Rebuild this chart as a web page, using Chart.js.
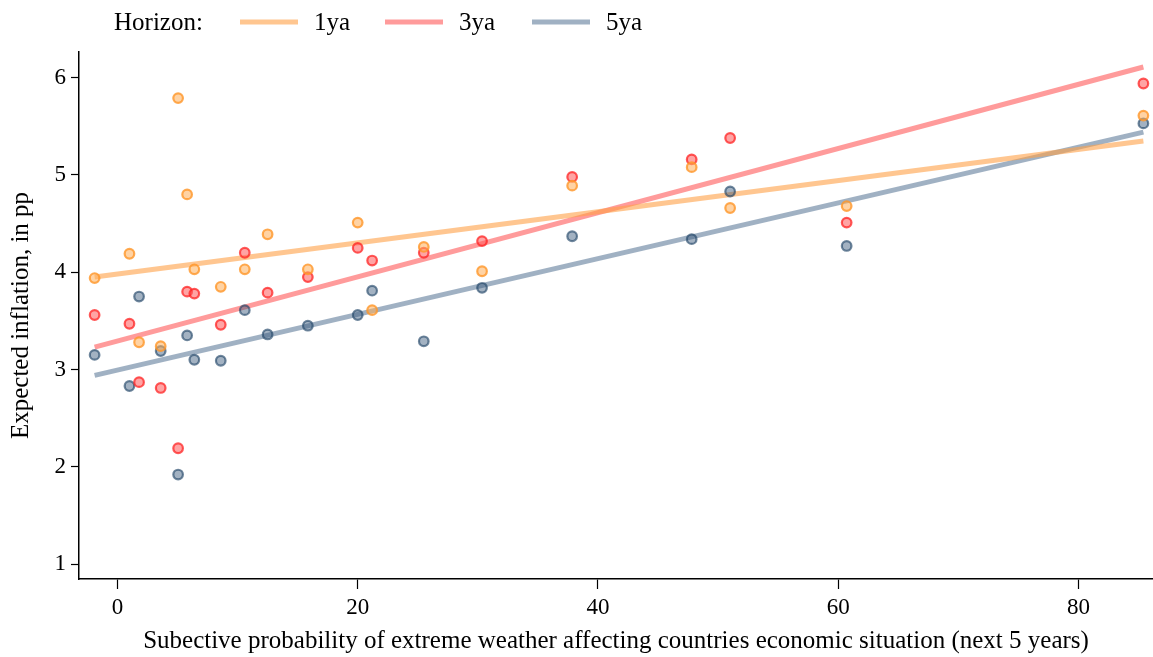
<!DOCTYPE html>
<html>
<head>
<meta charset="utf-8">
<script src="https://cdn.jsdelivr.net/npm/chart.js@4/dist/chart.umd.min.js"></script>
<style>
  html, body { margin: 0; padding: 0; background: #fff; }
  #wrap { width: 1153px; height: 657px; position: relative; }
</style>
</head>
<body>
<div id="wrap"><canvas id="chart" width="1153" height="657"></canvas></div>
<script>
// subjective probability (x) for each group
const probX = [-1.9, 1.0, 1.8, 3.6, 5.05, 5.8, 6.4, 8.6, 10.6, 12.5, 15.85, 20.0, 21.2, 25.5, 30.35, 37.85, 47.8, 51.0, 60.7, 85.4];

// expected inflation by horizon
const infl1ya = [3.94, 4.19, 3.28, 3.24, 5.79, 4.80, 4.03, 3.85, 4.03, 4.39, 4.03, 4.51, 3.61, 4.26, 4.01, 4.89, 5.08, 4.66, 4.68, 5.61];
const infl3ya = [3.56, 3.47, 2.87, 2.81, 2.19, 3.80, 3.78, 3.46, 4.20, 3.79, 3.95, 4.25, 4.12, 4.20, 4.32, 4.98, 5.16, 5.38, 4.51, 5.94];
const infl5ya = [3.15, 2.83, 3.75, 3.19, 1.92, 3.35, 3.10, 3.09, 3.61, 3.36, 3.45, 3.56, 3.81, 3.29, 3.84, 4.37, 4.34, 4.83, 4.27, 5.53];

// fitted lines, read at both ends
const fitX = [-1.9, 85.4];
const fit1ya = [3.95, 5.35];
const fit3ya = [3.23, 6.11];
const fit5ya = [2.94, 5.44];

const horizons = ['1ya', '3ya', '5ya'];
const xTicks = [0, 20, 40, 60, 80];
const yTicks = [1, 2, 3, 4, 5, 6];

const lineColors = ['rgba(255,160,70,0.6)', 'rgba(255,55,55,0.5)', 'rgba(65,100,135,0.5)'];
const dotBorder = ['rgba(255,150,40,0.8)', 'rgba(255,35,35,0.75)', 'rgba(35,70,105,0.65)'];
const dotFill = ['rgba(255,175,90,0.55)', 'rgba(255,90,90,0.55)', 'rgba(50,85,120,0.45)'];

const FONT = 'Liberation Serif';

function toPoints(xs, ys) {
  return xs.map((x, i) => ({ x: x, y: ys[i] }));
}

const series = [infl1ya, infl3ya, infl5ya];
const fits = [fit1ya, fit3ya, fit5ya];

const datasets = [];
series.forEach((ys, i) => {
  datasets.push({
    type: 'scatter',
    label: horizons[i] + ' obs',
    data: toPoints(probX, ys),
    pointRadius: 4.8,
    pointBorderWidth: 2.2,
    pointBackgroundColor: dotFill[i],
    pointBorderColor: dotBorder[i],
    order: 0
  });
});
fits.forEach((ys, i) => {
  datasets.push({
    type: 'line',
    label: horizons[i],
    data: toPoints(fitX, ys),
    borderColor: lineColors[i],
    borderWidth: 5,
    pointRadius: 0,
    fill: false,
    order: 1
  });
});

// legend on top: "Horizon:" then a line sample per fitted line
const topLegend = {
  id: 'topLegend',
  afterDraw(chart) {
    const ctx = chart.ctx;
    ctx.save();
    ctx.font = '25px "' + FONT + '"';
    ctx.fillStyle = '#000';
    ctx.textBaseline = 'middle';
    ctx.fillText('Horizon:', 114, 23);
    const starts = [240, 385, 532];
    horizons.forEach((h, i) => {
      ctx.strokeStyle = lineColors[i];
      ctx.lineWidth = 5;
      ctx.beginPath();
      ctx.moveTo(starts[i], 22);
      ctx.lineTo(starts[i] + 58, 22);
      ctx.stroke();
      ctx.fillText(h, starts[i] + 74, 23);
    });
    ctx.restore();
  }
};

new Chart(document.getElementById('chart'), {
  type: 'scatter',
  data: { datasets: datasets },
  plugins: [topLegend],
  options: {
    responsive: false,
    animation: false,
    layout: { autoPadding: false, padding: { top: 52, left: 0, right: 0, bottom: 0 } },
    plugins: {
      legend: { display: false },
      tooltip: { enabled: false }
    },
    scales: {
      x: {
        type: 'linear',
        min: -3.2,
        max: 86.2,
        afterBuildTicks: (scale) => { scale.ticks = xTicks.map(v => ({ value: v })) },
        afterFit: (scale) => {
          scale.height = 78;
          scale.paddingLeft = 0;
          scale.paddingRight = 0;
        },
        grid: { drawOnChartArea: false, tickLength: 10, color: '#000', tickWidth: 1.2 },
        border: { color: '#000', width: 1.5 },
        ticks: { color: '#000', font: { family: FONT, size: 23 }, padding: 5, maxRotation: 0 },
        title: {
          display: true,
          text: 'Subective probability of extreme weather affecting countries economic situation (next 5 years)',
          color: '#000',
          font: { family: FONT, size: 25 },
          padding: { top: 0, bottom: 1 }
        }
      },
      y: {
        type: 'linear',
        min: 0.846,
        max: 6.264,
        afterBuildTicks: (scale) => { scale.ticks = yTicks.map(v => ({ value: v })) },
        afterFit: (scale) => {
          scale.width = 79;
          scale.paddingTop = 0;
          scale.paddingBottom = 0;
        },
        grid: { drawOnChartArea: false, tickLength: 8, color: '#000', tickWidth: 1.2 },
        border: { color: '#000', width: 1.5 },
        ticks: { color: '#000', font: { family: FONT, size: 23 }, padding: 5 },
        title: {
          display: true,
          text: 'Expected inflation, in pp',
          color: '#000',
          font: { family: FONT, size: 25 },
          padding: { top: 6, bottom: 4 }
        }
      }
    }
  }
});
</script>
</body>
</html>
